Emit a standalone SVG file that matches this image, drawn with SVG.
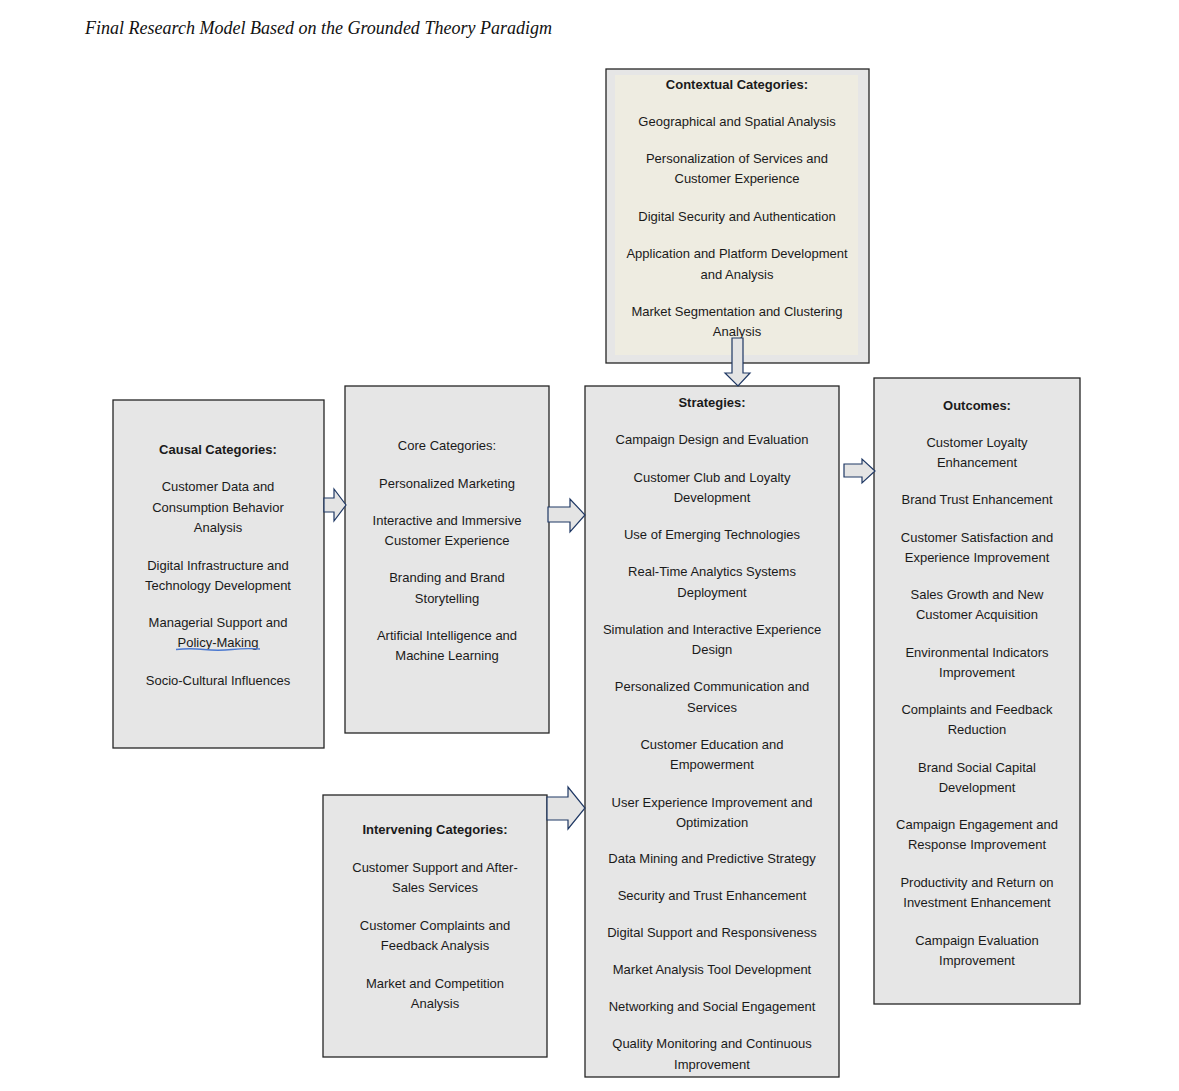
<svg xmlns="http://www.w3.org/2000/svg" width="1179" height="1091" viewBox="0 0 1179 1091">
<style>
.box{fill:#e6e6e6;stroke:#262626;stroke-width:1.3}
.t{font-family:"Liberation Sans",Arial,sans-serif;font-size:13px;fill:#1a1a1a;text-anchor:middle}
.b{font-weight:bold}
.arr{fill:#e4e4e4;stroke:#1f3864;stroke-width:1.2;stroke-linejoin:miter}
.title{font-family:"Liberation Serif","Times New Roman",serif;font-style:italic;font-size:18px;fill:#111}
</style>
<rect width="1179" height="1091" fill="#ffffff"/>
<text class="title" x="85" y="34" textLength="467" lengthAdjust="spacingAndGlyphs">Final Research Model Based on the Grounded Theory Paradigm</text>

<g id="contextual">
<rect class="box" x="606" y="69" width="263" height="294"/>
<rect x="615" y="75" width="243" height="280" fill="#eeece1"/>
<text class="t b" x="737" y="89">Contextual Categories:</text>
<text class="t" x="737" y="126">Geographical and Spatial Analysis</text>
<text class="t" x="737" y="163">Personalization of Services and</text>
<text class="t" x="737" y="183">Customer Experience</text>
<text class="t" x="737" y="221">Digital Security and Authentication</text>
<text class="t" x="737" y="258">Application and Platform Development</text>
<text class="t" x="737" y="279">and Analysis</text>
<text class="t" x="737" y="316">Market Segmentation and Clustering</text>
<text class="t" x="737" y="336">Analysis</text>
</g>

<g id="causal">
<rect class="box" x="113" y="400" width="211" height="348"/>
<text class="t b" x="218" y="454">Causal Categories:</text>
<text class="t" x="218" y="491">Customer Data and</text>
<text class="t" x="218" y="512">Consumption Behavior</text>
<text class="t" x="218" y="532">Analysis</text>
<text class="t" x="218" y="570">Digital Infrastructure and</text>
<text class="t" x="218" y="590">Technology Development</text>
<text class="t" x="218" y="627">Managerial Support and</text>
<text class="t" x="218" y="647">Policy-Making</text>
<path d="M176 649.5 Q190 648 204 649.5 T232 649.5 T260 649" fill="none" stroke="#4a78d0" stroke-width="1.3"/>
<text class="t" x="218" y="685">Socio-Cultural Influences</text>
</g>

<g id="core">
<rect class="box" x="345" y="386" width="204" height="347"/>
<text class="t" x="447" y="450">Core Categories:</text>
<text class="t" x="447" y="488">Personalized Marketing</text>
<text class="t" x="447" y="525">Interactive and Immersive</text>
<text class="t" x="447" y="545">Customer Experience</text>
<text class="t" x="447" y="582">Branding and Brand</text>
<text class="t" x="447" y="603">Storytelling</text>
<text class="t" x="447" y="640">Artificial Intelligence and</text>
<text class="t" x="447" y="660">Machine Learning</text>
</g>

<g id="intervening">
<rect class="box" x="323" y="795" width="224" height="262"/>
<text class="t b" x="435" y="834">Intervening Categories:</text>
<text class="t" x="435" y="872">Customer Support and After-</text>
<text class="t" x="435" y="892">Sales Services</text>
<text class="t" x="435" y="930">Customer Complaints and</text>
<text class="t" x="435" y="950">Feedback Analysis</text>
<text class="t" x="435" y="988">Market and Competition</text>
<text class="t" x="435" y="1008">Analysis</text>
</g>

<g id="strategies">
<rect class="box" x="585" y="386" width="254" height="691"/>
<text class="t b" x="712" y="407">Strategies:</text>
<text class="t" x="712" y="444">Campaign Design and Evaluation</text>
<text class="t" x="712" y="482">Customer Club and Loyalty</text>
<text class="t" x="712" y="502">Development</text>
<text class="t" x="712" y="539">Use of Emerging Technologies</text>
<text class="t" x="712" y="576">Real-Time Analytics Systems</text>
<text class="t" x="712" y="597">Deployment</text>
<text class="t" x="712" y="634">Simulation and Interactive Experience</text>
<text class="t" x="712" y="654">Design</text>
<text class="t" x="712" y="691">Personalized Communication and</text>
<text class="t" x="712" y="712">Services</text>
<text class="t" x="712" y="749">Customer Education and</text>
<text class="t" x="712" y="769">Empowerment</text>
<text class="t" x="712" y="807">User Experience Improvement and</text>
<text class="t" x="712" y="827">Optimization</text>
<text class="t" x="712" y="863">Data Mining and Predictive Strategy</text>
<text class="t" x="712" y="900">Security and Trust Enhancement</text>
<text class="t" x="712" y="937">Digital Support and Responsiveness</text>
<text class="t" x="712" y="974">Market Analysis Tool Development</text>
<text class="t" x="712" y="1011">Networking and Social Engagement</text>
<text class="t" x="712" y="1048">Quality Monitoring and Continuous</text>
<text class="t" x="712" y="1069">Improvement</text>
</g>

<g id="outcomes">
<rect class="box" x="874" y="378" width="206" height="626"/>
<text class="t b" x="977" y="410">Outcomes:</text>
<text class="t" x="977" y="447">Customer Loyalty</text>
<text class="t" x="977" y="467">Enhancement</text>
<text class="t" x="977" y="504">Brand Trust Enhancement</text>
<text class="t" x="977" y="542">Customer Satisfaction and</text>
<text class="t" x="977" y="562">Experience Improvement</text>
<text class="t" x="977" y="599">Sales Growth and New</text>
<text class="t" x="977" y="619">Customer Acquisition</text>
<text class="t" x="977" y="657">Environmental Indicators</text>
<text class="t" x="977" y="677">Improvement</text>
<text class="t" x="977" y="714">Complaints and Feedback</text>
<text class="t" x="977" y="734">Reduction</text>
<text class="t" x="977" y="772">Brand Social Capital</text>
<text class="t" x="977" y="792">Development</text>
<text class="t" x="977" y="829">Campaign Engagement and</text>
<text class="t" x="977" y="849">Response Improvement</text>
<text class="t" x="977" y="887">Productivity and Return on</text>
<text class="t" x="977" y="907">Investment Enhancement</text>
<text class="t" x="977" y="945">Campaign Evaluation</text>
<text class="t" x="977" y="965">Improvement</text>
</g>

<g id="connectors">
<polygon class="arr" points="324,498 334,498 334,489 346,505 334,521 334,512 324,512"/>
<polygon class="arr" points="548,507 570,507 570,499 585,515 570,532 570,522 548,522"/>
<polygon class="arr" points="547,797 568,797 568,787 585,808 568,829 568,820 547,820"/>
<polygon class="arr" points="844,464 862,464 862,459 875,471 862,483 862,477 844,477"/>
<polygon class="arr" points="732,338 743,338 743,373 750,373 738,386 725,373 732,373"/>
</g>
</svg>
